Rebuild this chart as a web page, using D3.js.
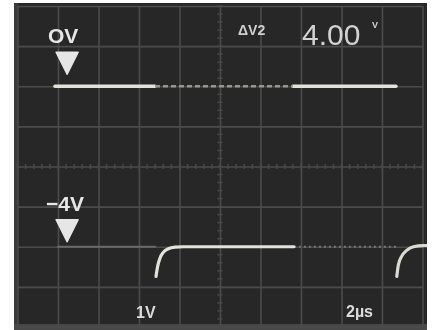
<!DOCTYPE html>
<html><head><meta charset="utf-8">
<script src="https://cdn.jsdelivr.net/npm/d3@7"></script>
<style>
html,body{margin:0;padding:0;background:#fff;}
svg{display:block;}
</style></head>
<body>
<script>
// ---- data (time in µs, 2 µs/div; voltage in V, 1 V/div) ----
const xGrid = [0,2,4,6,8,10,12,14,16,18,20];
const yGrid = [-6,-5,-4,-3,-2,-1,0,1,2];
const xMinor = d3.range(0, 20.01, 0.4);
const yMinor = d3.range(-6, 2.01, 0.2);
const ch1Bright1 = [[1.85,0],[6.79,0]];
const ch1Dashed  = [[6.79,0],[13.6,0]];
const ch1Bright2 = [[13.6,0],[18.69,0]];
const ch2Dim1    = [[2.0,-4],[6.8,-4]];
const ch2Rise1   = [[6.84,-4.74],[6.92,-4.49],[7.04,-4.28],[7.2,-4.14],[7.45,-4.05],[7.78,-4.01],[8.2,-4.0],[13.65,-4.0]];
const ch2Dim2    = [[13.65,-4],[18.74,-4]];
const ch2Rise2   = [[18.73,-4.74],[18.81,-4.45],[18.97,-4.24],[19.22,-4.09],[19.55,-4.0],[20.04,-3.97],[20.3,-3.97]];
const refLevels  = [{label:"OV", v:0}, {label:"\u22124V", v:-4}];
const readout    = {name:"\u0394V2", value:"4.00", unit:"V"};
const scaleLabels = {volts:"1V", time:"2\u00b5s"};

const W = 432, H = 330;
const svg = d3.select("body").append("svg").attr("width", W).attr("height", H);
const defs = svg.append("defs");
defs.append("filter").attr("id","glow").attr("x","-20%").attr("y","-50%").attr("width","140%").attr("height","200%")
  .append("feGaussianBlur").attr("stdDeviation",0.7);
defs.append("filter").attr("id","soft")
  .append("feGaussianBlur").attr("stdDeviation",0.6);
defs.append("clipPath").attr("id","scr").append("rect").attr("x",14).attr("y",3).attr("width",413).attr("height",327);

// screen
svg.append("rect").attr("x",14).attr("y",3).attr("width",413).attr("height",327).attr("fill","#272727");
svg.append("rect").attr("x",14).attr("y",3).attr("width",4).attr("height",327).attr("fill","#3a3a3a");
svg.append("rect").attr("x",14).attr("y",324).attr("width",413).attr("height",6).attr("fill","#474747");

const x = d3.scaleLinear().domain([0,20]).range([17.5,422.5]);
const y = d3.scaleLinear().domain([-6,2]).range([327,6]);

const scr = svg.append("g").attr("clip-path","url(#scr)");
const grid = scr.append("g").attr("filter","url(#soft)");
// graticule via axes
grid.append("g").attr("transform",`translate(0,${y(-6)})`)
  .call(d3.axisBottom(x).tickValues(xGrid).tickSize(-(y(-6)-y(2))).tickFormat(""))
  .call(g=>g.select(".domain").remove())
  .call(g=>g.selectAll("line").attr("stroke","#4c4c4c").attr("stroke-width",1.6));
grid.append("g").attr("transform",`translate(${x(0)},0)`)
  .call(d3.axisLeft(y).tickValues(yGrid).tickSize(-(x(20)-x(0))).tickFormat(""))
  .call(g=>g.select(".domain").remove())
  .call(g=>g.selectAll("line").attr("stroke","#4c4c4c").attr("stroke-width",1.6));
// minor ticks on centre lines
grid.append("g").selectAll("line").data(xMinor).join("line")
  .attr("x1",d=>x(d)).attr("x2",d=>x(d)).attr("y1",y(-2)-2.5).attr("y2",y(-2)+2.5)
  .attr("stroke","#4a4a4a").attr("stroke-width",1.4);
grid.append("g").selectAll("line").data(yMinor).join("line")
  .attr("y1",d=>y(d)).attr("y2",d=>y(d)).attr("x1",x(10)-2.5).attr("x2",x(10)+2.5)
  .attr("stroke","#4a4a4a").attr("stroke-width",1.4);

// traces
const line = d3.line().x(d=>x(d[0])).y(d=>y(d[1])).curve(d3.curveMonotoneX);
const tr = scr.append("g").attr("filter","url(#glow)").attr("fill","none").attr("stroke-linecap","round");
tr.append("path").datum(ch1Bright1).attr("d",line).attr("stroke","#e2e2dc").attr("stroke-width",3.4);
tr.append("path").datum(ch1Bright2).attr("d",line).attr("stroke","#e2e2dc").attr("stroke-width",3.4);
tr.append("path").datum(ch1Dashed).attr("d",line).attr("stroke","#959591").attr("stroke-width",2.4).attr("stroke-dasharray","5,3").attr("stroke-linecap","butt");
tr.append("path").datum(ch2Dim1).attr("d",line).attr("stroke","#6a6a68").attr("stroke-width",2.2);
tr.append("path").datum(ch2Dim2).attr("d",line).attr("stroke","#777775").attr("stroke-width",2.2).attr("stroke-dasharray","2,3").attr("stroke-linecap","butt");
tr.append("path").datum(ch2Rise1).attr("d",line).attr("stroke","#e2e2dc").attr("stroke-width",3.2);
tr.append("path").datum(ch2Rise2).attr("d",line).attr("stroke","#dadad4").attr("stroke-width",3.2);

// reference markers + labels
const txt = svg.append("g").attr("filter","url(#glow)").attr("fill","#e6e6e6").attr("font-family","Liberation Sans, Arial, sans-serif");
const lblX = [48, 46];
const lblY = [43, 211];
refLevels.forEach((r,i)=>{
  txt.append("text").attr("x",lblX[i]).attr("y",lblY[i]).attr("font-size",21).attr("font-weight","bold").text(r.label);
  const tx = x(2.45), ty = y(r.v) - (i===0?12:5);
  const hw = 11, h = 22;
  txt.append("path").attr("d",`M${tx-hw},${ty-h} L${tx+hw},${ty-h} L${tx},${ty} Z`).attr("stroke","#e6e6e6").attr("stroke-width",1.5).attr("stroke-linejoin","round");
});
// readout
txt.append("text").attr("x",238).attr("y",35).attr("font-size",14).attr("font-weight","bold").attr("fill","#cfcfcf").text(readout.name);
txt.append("text").attr("x",302).attr("y",45).attr("font-size",30).attr("fill","#d2d2d2").text(readout.value);
txt.append("text").attr("x",372).attr("y",28).attr("font-size",9).attr("font-weight","bold").attr("fill","#d2d2d2").text(readout.unit);
// scale factors
txt.append("text").attr("x",136).attr("y",318).attr("font-size",16).attr("font-weight","bold").attr("fill","#dcdcdc").text(scaleLabels.volts);
txt.append("text").attr("x",346).attr("y",317).attr("font-size",16).attr("font-weight","bold").attr("fill","#dcdcdc").text(scaleLabels.time);
</script>
</body></html>
